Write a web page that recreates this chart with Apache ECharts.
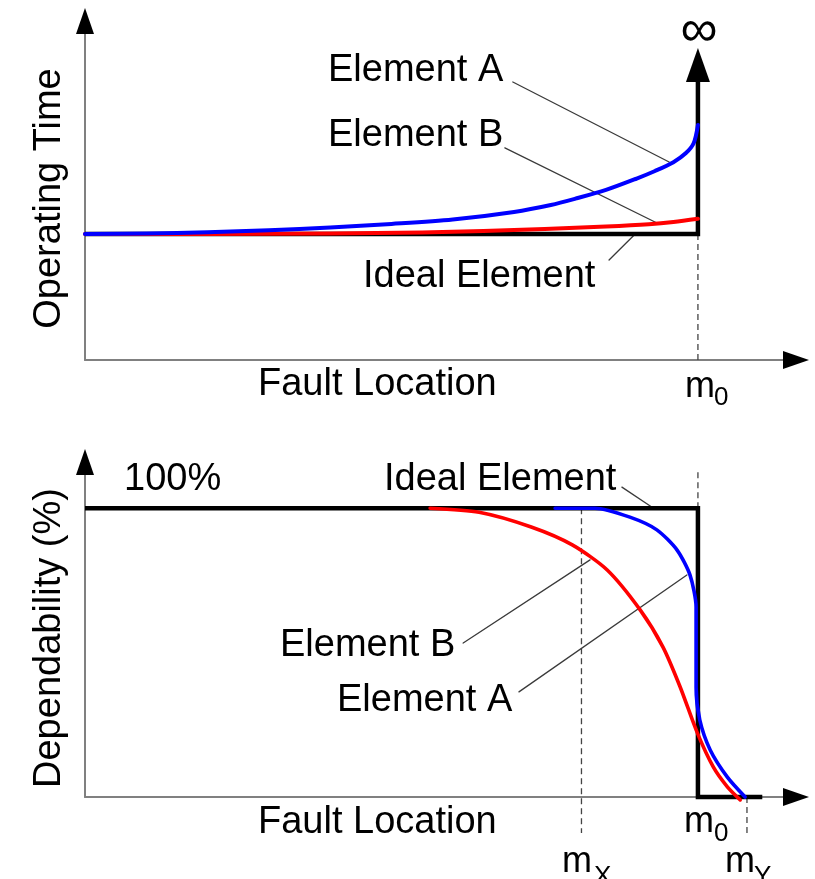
<!DOCTYPE html>
<html>
<head>
<meta charset="utf-8">
<title>Operating time and dependability vs. fault location</title>
<script src="https://cdn.jsdelivr.net/npm/echarts@6/dist/echarts.min.js"></script>
<style>
  html, body { margin: 0; padding: 0; background: #fff; }
  #chart { width: 815px; height: 879px; }
</style>
</head>
<body>
<div id="chart"></div>
<script>
// Fault location is in % of the reach m0 (m0 = 100).
// Upper panel: operating time, relative to the ideal element (ideal = 1).
const idealTime = [[0, 1], [100, 1]];
const idealTimeInfinity = [100, 2.34];
const timeElementA = [
  [0, 1.0], [10, 1.004], [20, 1.014], [30, 1.03], [40, 1.052], [50, 1.08],
  [60, 1.115], [70, 1.175], [76, 1.23], [80, 1.28], [85, 1.35], [90, 1.44],
  [93, 1.5], [96, 1.57], [98, 1.64], [99.3, 1.72], [100, 1.865]
];
const timeElementB = [
  [0, 1.0], [20, 1.0], [40, 1.004], [55, 1.012], [65, 1.024], [75, 1.04],
  [85, 1.06], [92, 1.078], [96, 1.095], [100, 1.12]
];

// Lower panel: dependability (%).
const idealDependability = [[0, 100], [100, 100], [100, 0], [110.5, 0]];
const depElementA = [
  [76.7, 100], [83.2, 100], [88.9, 96.9], [93.3, 92.5], [96.6, 85.5],
  [98.7, 76.9], [99.7, 65.8], [99.7, 52], [99.7, 38], [100.3, 26.7],
  [102.0, 16.3], [104.8, 6.9], [107.7, 0]
];
const depElementB = [
  [56.3, 100], [64.3, 98.6], [72.8, 93.5], [79.5, 87.3], [85.2, 78.6],
  [90.6, 64.7], [94.3, 51.9], [97.1, 38.1], [99.9, 22.2], [102.5, 10.4],
  [104.8, 3.5], [106.9, -1.0]
];

// Reach markers on the fault-location axis.
const reachM0 = 100;
const reachMX = 81;
const reachMY = 108;

// Leader lines from the annotations to the curves (data coordinates).
const topLeaders = [
  [[69.8, 2.206], [95.3, 1.571]],
  [[68.5, 1.683], [93.65, 1.079]],
  [[85.5, 0.794], [89.6, 0.992]]
];
const bottomLeaders = [
  [[61.7, 53.3], [82.4, 82.1]],
  [[70.8, 36.4], [98.2, 76.9]],
  [[87.6, 107.3], [92.7, 100.1]]
];

const FONT = "'Liberation Sans', Arial, Helvetica, sans-serif";
const BLUE = '#0000ff';
const RED = '#ff0000';

function mainX(g) {
  return {
    type: 'value', gridIndex: g, min: 0, max: 116, position: 'bottom',
    axisLine: { show: true, onZero: false, lineStyle: { color: '#808080', width: 2 } },
    axisTick: { show: false }, axisLabel: { show: false }, splitLine: { show: false }
  };
}
function arrowX(g) {
  return {
    type: 'value', gridIndex: g, min: 0, max: 116, position: 'bottom',
    axisLine: { show: true, onZero: false, symbol: ['none', 'triangle'], symbolSize: [18, 26],
      lineStyle: { color: '#000', width: 2, opacity: 0 } },
    axisTick: { show: false }, axisLabel: { show: false }, splitLine: { show: false }
  };
}
function mainY(g, max) {
  return {
    type: 'value', gridIndex: g, min: 0, max: max, position: 'left',
    axisLine: { show: true, onZero: false, lineStyle: { color: '#808080', width: 2 } },
    axisTick: { show: false }, axisLabel: { show: false }, splitLine: { show: false }
  };
}
function arrowY(g, max) {
  return {
    type: 'value', gridIndex: g, min: 0, max: max, position: 'left',
    axisLine: { show: true, onZero: false, symbol: ['none', 'triangle'], symbolSize: [18, 26],
      lineStyle: { color: '#000', width: 2, opacity: 0 } },
    axisTick: { show: false }, axisLabel: { show: false }, splitLine: { show: false }
  };
}

function lineSeries(g, data, color, width, extra) {
  return Object.assign({
    type: 'line', xAxisIndex: g * 2, yAxisIndex: g * 2, data: data,
    symbol: 'none', silent: true, clip: false,
    lineStyle: { color: color, width: width, cap: 'round', join: 'round' }
  }, extra || {});
}
function dashed(g, x, y0, y1) {
  return lineSeries(g, [[x, y0], [x, y1]], '#444', 1.3, {
    lineStyle: { color: '#444', width: 1.3, type: [6, 4] }, z: 1
  });
}
function leaders(g, list) {
  return list.map(seg => lineSeries(g, seg, '#3a3a3a', 1.3, { z: 1 }));
}

function label(text, x, y, opts) {
  const o = opts || {};
  return {
    type: 'text', x: x, y: y, rotation: o.rotation || 0, silent: true, z: 20,
    style: {
      text: text, fill: '#000',
      font: (o.size || 38) + 'px ' + FONT,
      textAlign: o.align || 'left', align: o.align || 'left',
      textVerticalAlign: 'middle', verticalAlign: 'middle'
    }
  };
}

const option = {
  animation: false,
  backgroundColor: '#fff',
  grid: [
    { left: 85, right: 19, top: 21, bottom: 519, containLabel: false },
    { left: 85, right: 19, top: 462, bottom: 82, containLabel: false }
  ],
  xAxis: [mainX(0), arrowX(0), mainX(1), arrowX(1)],
  yAxis: [mainY(0, 2.69), arrowY(0, 2.69), mainY(1, 116), arrowY(1, 116)],
  series: [
    // upper panel
    dashed(0, reachM0, 0, 1),
    ...leaders(0, topLeaders),
    lineSeries(0, idealTime.concat([{
      value: idealTimeInfinity, symbol: 'triangle', symbolSize: [24, 34],
      itemStyle: { color: '#000' }
    }]), '#000', 4.5, { showSymbol: true, itemStyle: { color: '#000' }, lineStyle: { color: '#000', width: 4.5, cap: 'butt', join: 'miter' } }),
    lineSeries(0, timeElementB, RED, 4, { smooth: 0.3 }),
    lineSeries(0, timeElementA, BLUE, 4, { smooth: 0.3 }),
    // lower panel
    dashed(1, reachM0, 100, 112.5),
    dashed(1, reachMX, 100, -12.5),
    dashed(1, reachMY, 0, -12.5),
    ...leaders(1, bottomLeaders),
    lineSeries(1, idealDependability, '#000', 4.5, { lineStyle: { color: '#000', width: 4.5, cap: 'butt', join: 'miter' } }),
    lineSeries(1, depElementA, BLUE, 3.6, { smooth: 0.25 }),
    lineSeries(1, depElementB, RED, 3.6, { smooth: 0.25 })
  ],
  graphic: [
    // upper panel text
    label('Operating Time', 50, 198.5, { rotation: Math.PI / 2, align: 'center' }),
    label('Fault Location', 258, 385),
    label('Element A', 328, 71),
    label('Element B', 328, 136),
    label('Ideal Element', 363, 277),
    label('\u221E', 699, 32, { size: 52, align: 'center' }),
    label('m', 685, 387, { size: 36 }),
    label('0', 714, 398, { size: 26 }),
    // lower panel text
    label('Dependability (%)', 50, 638, { rotation: Math.PI / 2, align: 'center' }),
    label('100%', 124, 480),
    label('Ideal Element', 384, 480),
    label('Element B', 280, 646),
    label('Element A', 337, 701),
    label('Fault Location', 258, 823),
    label('m', 684, 822, { size: 36 }),
    label('0', 714, 834, { size: 26 }),
    label('m', 562, 862, { size: 36 }),
    label('X', 594, 877, { size: 26 }),
    label('m', 725, 862, { size: 36 }),
    label('Y', 754, 877, { size: 26 })
  ]
};

const chart = echarts.init(document.getElementById('chart'), null, { renderer: 'canvas' });
chart.setOption(option);
</script>
</body>
</html>
